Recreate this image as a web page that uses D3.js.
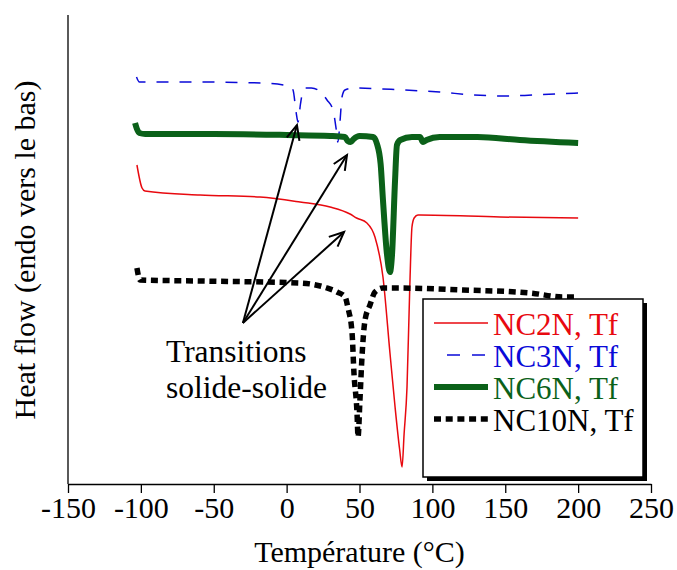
<!DOCTYPE html>
<html>
<head>
<meta charset="utf-8">
<script src="https://cdn.jsdelivr.net/npm/d3@7"></script>
<style>
  html, body { margin: 0; padding: 0; background: #fff; }
  svg { display: block; }
  text { font-family: "Liberation Serif", "Times New Roman", serif; }
</style>
</head>
<body>
<svg id="chart" width="677" height="570"></svg>
<script>
// ---- Data (temperature in °C, heat flow in arbitrary units, endo down) ----
const xTicks = [-150, -100, -50, 0, 50, 100, 150, 200, 250];

const nc2nT = [-102.7, -99.2, -97.2, -59.4, -18.3, 9.2, 29.8, 43.5, 48, 55.1, 60.6, 66.1, 70.9, 74.4, 77.5, 79.2, 80.6, 82.6, 84.5, 86.0, 87.5, 90.1, 91.5, 146.4, 200];
const nc2nV = [319, 296, 293, 289, 287, 282, 277, 270, 266, 261, 247, 207, 131, 77, 35, 17, 50, 97, 197, 257, 266, 269, 269, 267, 266];

const nc3nT = [-103, -101, -60, -18, 2, 4.4, 6.5, 7.8, 9.5, 11, 12.6, 17, 21.5, 27.7, 31.8, 34, 35.2, 36.5, 38, 40, 46, 80, 105, 128, 151, 169, 200];
const nc3nV = [407, 402, 402, 401, 398, 394, 372, 362, 380, 392, 396, 396, 394, 384, 374, 355, 342, 360, 387, 394, 396, 394, 392, 389, 388, 389, 391];

const nc6nT = [-104, -102.7, -101, -97, -50, 0, 30, 40, 42, 44, 46, 50, 59.3, 62.0, 64.5, 66.1, 68.9, 70.9, 72.3, 74.4, 75.7, 78, 86, 91.5, 93.6, 96, 105, 131, 160, 200];
const nc6nV = [361, 355, 351, 350, 350, 349, 348, 347, 343, 342, 345, 348, 347, 340, 320, 284, 229, 212, 229, 304, 339, 344, 347, 347, 342, 344, 347, 347, 344, 341];

const nc10nT = [-102.7, -100.6, -60, 9.2, 27.7, 34.6, 40.1, 42.1, 44.9, 46.2, 48.3, 49.0, 50.3, 51.7, 53.8, 57.2, 60.6, 66.1, 75.7, 121, 167, 189.6, 200];
const nc10nV = [216, 204, 203, 201, 196, 192, 187, 176, 151, 111, 71, 47, 84, 127, 164, 179, 192, 196, 196, 194, 191, 187, 187];

const seriesNames = ["NC2N, Tf", "NC3N, Tf", "NC6N, Tf", "NC10N, Tf"];
const seriesColors = ["#e8090f", "#0a0ad8", "#0b6119", "#000000"];

// Annotation: origin and arrow targets (data coords)
const annoOrigin = [-30, 161];
const annoTargets = [[7.1, 359], [41.4, 329], [39.4, 252]];
const annoLines = ["Transitions", "solide-solide"];

// ---- Layout ----
const svg = d3.select("#chart");
const x = d3.scaleLinear().domain([-150, 250]).range([68, 651]);
const y = d3.scaleLinear().domain([0, 469]).range([484, 15]);
const FS = 30;

// axes
const xAxis = svg.append("g").attr("transform", "translate(0,484)")
  .call(d3.axisBottom(x).tickValues(xTicks).tickSize(9).tickSizeOuter(0).tickPadding(4).tickFormat(d3.format("d")));
xAxis.select(".domain").attr("stroke", "#000").attr("stroke-width", 1.3);
xAxis.selectAll(".tick line").attr("stroke", "#000").attr("stroke-width", 1.3);
xAxis.selectAll(".tick text").attr("font-size", FS).attr("fill", "#000")
  .attr("font-family", "Liberation Serif").attr("dy", "0.71em").text(d => d < 0 ? "-" + Math.abs(d) : d);

svg.append("line").attr("x1", x(-150)).attr("x2", x(-150)).attr("y1", y(469)).attr("y2", y(0))
  .attr("stroke", "#000").attr("stroke-width", 1.3);

svg.append("text").attr("x", (x(-150) + x(250)) / 2).attr("y", 562).attr("text-anchor", "middle")
  .attr("font-size", FS).text("Température (°C)");
svg.append("text").attr("transform", `translate(35,${y(234)}) rotate(-90)`).attr("text-anchor", "middle")
  .attr("font-size", FS).text("Heat flow (endo vers le bas)");

// series
const line = d3.line().x(d => x(d[0])).y(d => y(d[1])).curve(d3.curveMonotoneX);
const styles = [
  { w: 1.5, dash: null },
  { w: 1.5, dash: "12,11" },
  { w: 6, dash: null },
  { w: 5.5, dash: "7,4.7" }
];
const allT = [nc2nT, nc3nT, nc6nT, nc10nT];
const allV = [nc2nV, nc3nV, nc6nV, nc10nV];
const drawOrder = [0, 1, 3, 2];
drawOrder.forEach(i => {
  const pts = allT[i].map((t, k) => [t, allV[i][k]]);
  const p = svg.append("path").datum(pts).attr("d", line).attr("fill", "none")
    .attr("stroke", seriesColors[i]).attr("stroke-width", styles[i].w).attr("stroke-linejoin", "round");
  if (styles[i].dash) p.attr("stroke-dasharray", styles[i].dash);
});

// annotation arrows
const ox = x(annoOrigin[0]), oy = y(annoOrigin[1]);
annoTargets.forEach(tg => {
  const tx = x(tg[0]), ty = y(tg[1]);
  const ang = Math.atan2(ty - oy, tx - ox);
  const L = 16, a = 0.42;
  const w1 = [tx - L * Math.cos(ang - a), ty - L * Math.sin(ang - a)];
  const w2 = [tx - L * Math.cos(ang + a), ty - L * Math.sin(ang + a)];
  svg.append("line").attr("x1", ox).attr("y1", oy).attr("x2", tx).attr("y2", ty)
    .attr("stroke", "#000").attr("stroke-width", 2);
  svg.append("path").attr("d", `M${w1[0]},${w1[1]}L${tx},${ty}L${w2[0]},${w2[1]}`)
    .attr("fill", "none").attr("stroke", "#000").attr("stroke-width", 2);
});
annoLines.forEach((s, i) => {
  svg.append("text").attr("x", 166).attr("y", 362 + i * 36).attr("font-size", 31.5).text(s);
});

// legend
const lg = svg.append("g").attr("transform", "translate(423,299)");
lg.append("rect").attr("x", 4).attr("y", 4).attr("width", 220).attr("height", 178).attr("fill", "#000");
lg.append("rect").attr("x", 0).attr("y", 0).attr("width", 220).attr("height", 178)
  .attr("fill", "#fff").attr("stroke", "#000").attr("stroke-width", 1.5);
seriesNames.forEach((name, i) => {
  const cy = 24 + i * 32;
  const ln = lg.append("line").attr("x1", 11).attr("x2", 65).attr("y1", cy).attr("y2", cy)
    .attr("stroke", seriesColors[i]).attr("stroke-width", styles[i].w);
  if (i === 1) ln.attr("x1", 24).attr("stroke-dasharray", "13,12");
  else if (styles[i].dash) ln.attr("stroke-dasharray", styles[i].dash);
  lg.append("text").attr("x", 70).attr("y", cy + 12).attr("font-size", 31)
    .attr("fill", seriesColors[i]).text(name);
});
</script>
</body>
</html>
